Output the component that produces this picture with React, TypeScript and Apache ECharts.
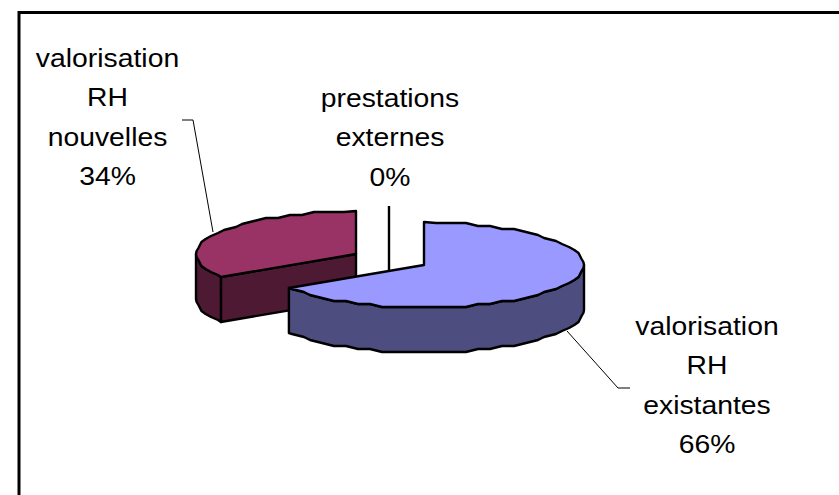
import React, { useEffect, useRef } from "react";
import * as echarts from "echarts";

const categories = ["valorisation RH existantes", "valorisation RH nouvelles", "prestations externes"];
const values = [66, 34, 0];
const topColors = ["#9999FF", "#993366", "#FFFFFF"];
const sideColors = ["#4D4D80", "#4D1933", "#808080"];
// drawing order: back to front
const drawOrder = [1, 2, 0];

const centers = [[424, 265], [356, 254], [389, 249]];
const labelPos = [[707, 326], [107.5, 58], [390, 98]];
const leaders = [
  [[567, 331], [618, 388], [630, 388]],
  [[213, 232], [193, 120], [182, 120]],
  [],
];
const RX = 160;
const RY = 43;
const DEPTH = 45;
const STEP = 5;
const SNAP_X = 6;
const SNAP_Y = 3;
const total = values.reduce((a, b) => a + b, 0);

function pt(c: number[], deg: number, dz = 0) {
  const r = (deg * Math.PI) / 180;
  return [c[0] + RX * Math.sin(r), c[1] - RY * Math.cos(r) + dz];
}
// the reference's rim is a coarse, slightly jagged outline
function rough(c: number[], deg: number, dz = 0) {
  const p = pt(c, deg, dz);
  const ox = p[0] - c[0];
  const oy = p[1] - c[1] - dz;
  const x = Math.abs(Math.sin((deg * Math.PI) / 180)) > 0.9 ? ox : Math.round(ox / SNAP_X) * SNAP_X;
  return [c[0] + x, c[1] + dz + Math.round(oy / SNAP_Y) * SNAP_Y];
}
function arcPts(c: number[], a0: number, a1: number, dz = 0) {
  const pts: number[][] = [pt(c, a0, dz)];
  let a = Math.ceil((a0 + 0.001) / STEP) * STEP;
  for (; a < a1 - 0.001; a += STEP) pts.push(rough(c, a, dz));
  if (a1 > a0) pts.push(pt(c, a1, dz));
  return pts;
}

function renderSlice(_: any, api: any) {
  const idx = api.value(0);
  let start = 0;
  for (let i = 0; i < idx; i++) start += (values[i] / total) * 360;
  const end = start + (api.value(1) / total) * 360;
  const c = centers[idx];
  const line = { stroke: "#000", lineWidth: 2.4, lineJoin: "round" };
  const children: any[] = [];
  const side = sideColors[idx];
  if (end > start) {
    // cut face toward viewer (start edge of the slice, if it faces front)
    if (start > 180 && start < 360) {
      const s = pt(c, start);
      children.push({
        type: "polygon",
        shape: { points: [c, s, [s[0], s[1] + DEPTH], [c[0], c[1] + DEPTH]] },
        style: { fill: side, ...line },
      });
    }
    // outer rim on the visible lower half
    const r0 = Math.max(start, 90);
    const r1 = Math.min(end, 270);
    if (r1 > r0) {
      const upper = arcPts(c, r0, r1);
      const lower = arcPts(c, r0, r1, DEPTH).reverse();
      children.push({
        type: "polygon",
        shape: { points: [...upper, ...lower] },
        style: { fill: side, ...line },
      });
    }
    children.push({
      type: "polygon",
      shape: { points: [c, ...arcPts(c, start, end)] },
      style: { fill: topColors[idx], ...line },
    });
  } else {
    const s = pt(c, start);
    children.push({
      type: "line",
      shape: { x1: s[0], y1: s[1], x2: c[0], y2: c[1] + DEPTH },
      style: { stroke: "#000", lineWidth: 2.4 },
    });
  }
  return { type: "group", children };
}

function renderLabel(_: any, api: any) {
  const idx = api.value(0);
  const lines = categories[idx].split(" ");
  lines.push(`${api.value(1)}%`);
  const children: any[] = lines.map((t: string, i: number) => ({
    type: "text",
    x: labelPos[idx][0],
    y: labelPos[idx][1] + i * 39.4,
    scaleX: 1.09,
    style: {
      text: t,
      fill: "#000",
      font: "26px 'Liberation Sans', Arial, sans-serif",
      align: "center",
      verticalAlign: "middle",
    },
  }));
  if (leaders[idx].length) {
    children.push({
      type: "polyline",
      shape: { points: leaders[idx] },
      style: { stroke: "#000", lineWidth: 1, fill: "none" },
    });
  }
  return { type: "group", children };
}

export default function App() {
  const ref = useRef<HTMLDivElement>(null);
  useEffect(() => {
    const chart = echarts.init(ref.current!, undefined, { renderer: "svg" });
    chart.setOption({
      animation: false,
      backgroundColor: "#fff",
      graphic: [
        {
          type: "polyline",
          shape: { points: [[19, 496], [19, 12.5], [840, 12.5]] },
          style: { fill: "none", stroke: "#000", lineWidth: 3 },
          z: 0,
        },
      ],
      series: [
        {
          type: "custom",
          coordinateSystem: "none",
          renderItem: renderSlice,
          data: drawOrder.map((i) => [i, values[i]]),
          silent: true,
          z: 2,
        },
        {
          type: "custom",
          coordinateSystem: "none",
          renderItem: renderLabel,
          data: values.map((v, i) => [i, v]),
          silent: true,
          z: 3,
        },
      ],
    });
    return () => chart.dispose();
  }, []);
  return <div ref={ref} style={{ position: "absolute", left: 0, top: 0, width: 839, height: 495 }} />;
}
